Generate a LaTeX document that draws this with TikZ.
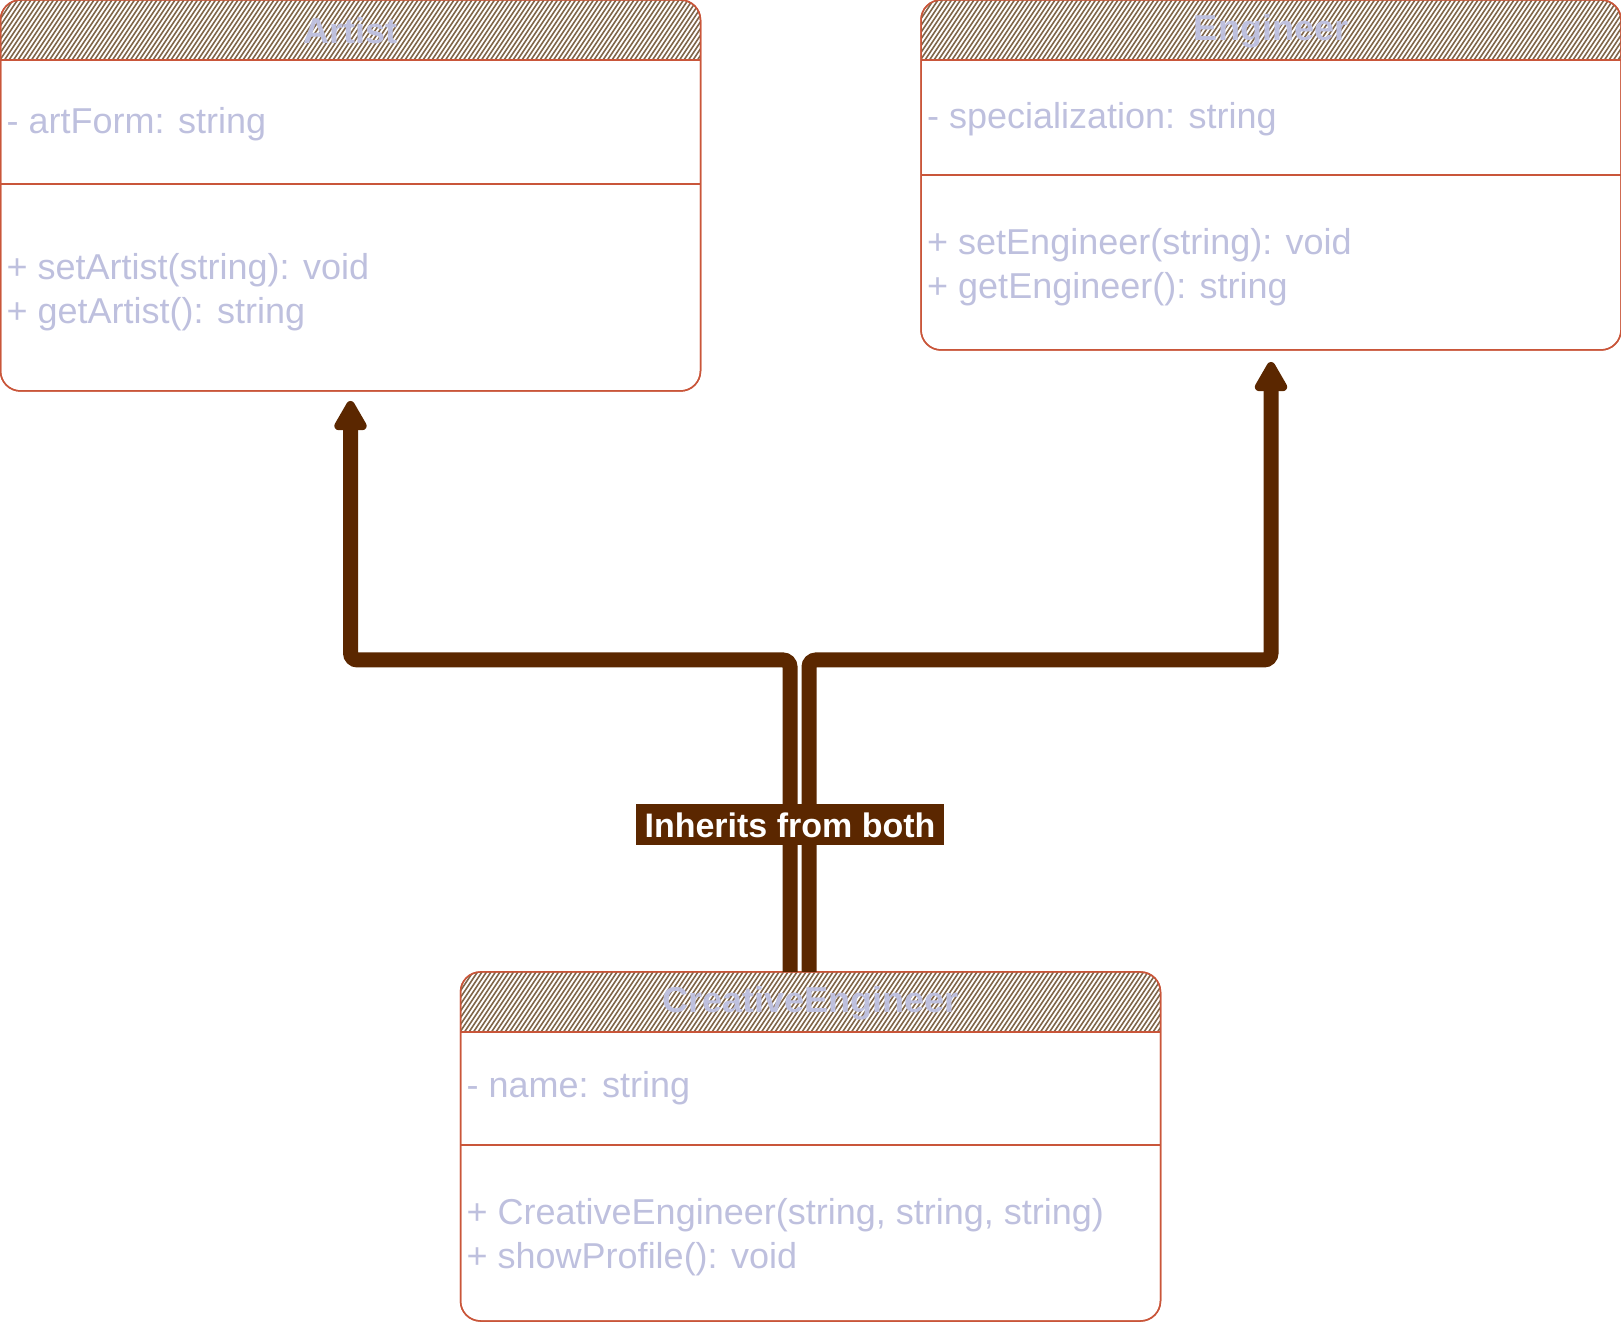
\documentclass[tikz,border=0pt]{standalone}
\usepackage{fontspec}
\setmainfont{Liberation Sans}
\usetikzlibrary{arrows.meta}
\definecolor{clsline}{RGB}{201,86,58}
\definecolor{memtext}{RGB}{190,192,222}
\definecolor{hatchc}{RGB}{128,102,74}
\definecolor{inhc}{RGB}{91,39,0}
\begin{document}
\begin{tikzpicture}[x=1pt, y=1pt,
	cls/.style={draw=clsline, line width=1.5pt, rounded corners=20pt, inner sep=0, outer sep=0, minimum width=700pt},
	ttl/.style={font=\fontsize{36}{42}\selectfont\bfseries, text=memtext},
	mem/.style={font=\fontsize{36}{44}\selectfont, text=memtext, anchor=west, align=left, inner sep=0},
	hatch/.style={hatchc, line width=1.6pt},
	inh/.style={draw=inhc, line width=15pt, rounded corners=7pt, -{Triangle[round, width=36pt, length=34pt]}},
	lbl/.style={fill=inhc, text=white, font=\fontsize{34}{40}\selectfont\bfseries, inner sep=0, minimum width=308pt, minimum height=41pt}]
	\useasboundingbox (0,0) rectangle (1621,1322);

	\node[cls, minimum height=391pt] (artist) at (350.5,1126.5) {};
	\node[cls, minimum height=350pt] (engineer) at (1271,1147) {};
	\node[cls, minimum height=349pt] (creative) at (810.5,175.5) {};

	\foreach \b/\d in {artist/184, engineer/175, creative/173}{
		\begin{scope}
			\clip[rounded corners=20pt] (\b.south west) rectangle (\b.north east);
			\clip (\b.north west) rectangle ([yshift=-60pt]\b.north east);
			\foreach \i in {-50,-45.5,...,710}
				\draw[hatch] ([xshift=\i pt, yshift=-60pt]\b.north west) -- ++(40,60);
		\end{scope}
		\draw[clsline, line width=1.5pt, rounded corners=20pt] (\b.south west) rectangle (\b.north east);
		\draw[clsline, line width=1.5pt] ([yshift=-60pt]\b.north west) -- ([yshift=-60pt]\b.north east);
		\draw[clsline, line width=1.5pt] ([yshift=-\d pt]\b.north west) -- ([yshift=-\d pt]\b.north east);
	}

	\node[ttl] (artistT) at ([yshift=-31pt]artist.north) {Artist};
	\node[mem] (artistA) at ([xshift=6pt, yshift=-124pt]artist.north west) {- artForm: string};
	\node[mem] (artistM) at ([xshift=6pt, yshift=-292pt]artist.north west) {+ setArtist(string): void\\+ getArtist(): string};

	\node[ttl] (engineerT) at ([yshift=-31pt]engineer.north) {Engineer};
	\node[mem] (engineerA) at ([xshift=6pt, yshift=-119pt]engineer.north west) {- specialization: string};
	\node[mem] (engineerM) at ([xshift=6pt, yshift=-267pt]engineer.north west) {+ setEngineer(string): void\\+ getEngineer(): string};

	\node[ttl] (creativeT) at ([yshift=-31pt]creative.north) {CreativeEngineer};
	\node[mem] (creativeA) at ([xshift=6pt, yshift=-116pt]creative.north west) {- name: string};
	\node[mem] (creativeM) at ([xshift=6pt, yshift=-265pt]creative.north west) {+ CreativeEngineer(string, string, string)\\+ showProfile(): void};

	\draw[inh] ([xshift=-20.5pt]creative.north) -- ++(0,312) -| ([yshift=-10pt]artist.south);
	\draw[inh] ([xshift=-1.5pt]creative.north) -- ++(0,312) -| ([yshift=-12pt]engineer.south);
	\node[lbl] (both) at ([xshift=-20.5pt, yshift=147pt]creative.north) {Inherits from both};
\end{tikzpicture}
\end{document}
